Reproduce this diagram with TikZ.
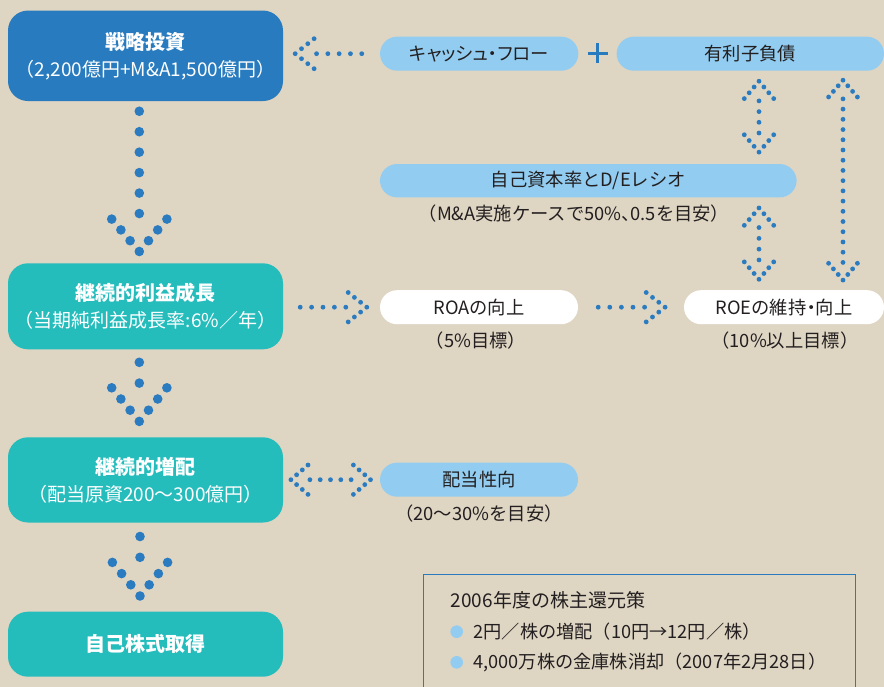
\documentclass[tikz,border=0pt]{standalone}
\usepackage{fontspec}
\setmainfont{Noto Sans CJK JP}
\usetikzlibrary{calc}
\definecolor{cbg}{HTML}{DED5C3}
\definecolor{cnavy}{HTML}{287BBE}
\definecolor{cteal}{HTML}{25BCBC}
\definecolor{cpale}{HTML}{92CDF1}
\definecolor{cdot}{HTML}{2A7BBF}
\definecolor{ctext}{HTML}{231F20}
\newcommand\ttlfont{\fontsize{20}{27}\selectfont\bfseries}
\tikzset{
  mainbox/.style={rectangle, rounded corners=20pt, minimum width=275pt, inner sep=0pt,
    text=white, align=center, font=\fontsize{19}{27}\selectfont},
  pill/.style={rectangle, rounded corners=17pt, fill=cpale, minimum height=34pt, inner sep=0pt,
    text=ctext, font=\fontsize{18.3}{20}\selectfont},
  subtxt/.style={text=ctext, inner sep=0pt, font=\fontsize{18.3}{20}\selectfont},
  lgtxt/.style={text=ctext, inner sep=0pt, anchor=west, font=\fontsize{18.2}{20}\selectfont},
  pics/vchev/.style n args={3}{code={
    \fill[cdot] (0,0) circle (#3pt);
    \foreach \k in {1,2,3}{\fill[cdot] (\k*#1,\k*#2) circle (#3pt); \fill[cdot] (-\k*#1,\k*#2) circle (#3pt);}
  }},
  pics/hchev/.style n args={3}{code={
    \fill[cdot] (0,0) circle (#3pt);
    \foreach \k in {1,2,3}{\fill[cdot] (\k*#1,\k*#2) circle (#3pt); \fill[cdot] (\k*#1,-\k*#2) circle (#3pt);}
  }},
}
\begin{document}
\begin{tikzpicture}[x=1pt,y=-1pt]
\fill[cbg] (0,0) rectangle (884,687);
\useasboundingbox (0,0) rectangle (884,687);

% main column
\node[mainbox, fill=cnavy, minimum height=90.5pt] (s1) at (145.5,55.8)
  {{\ttlfont 戦略投資}\\（2,200億円+M\&A1,500億円）};
\node[mainbox, fill=cteal, minimum height=86pt] (s2) at (145.5,306.3)
  {{\ttlfont 継続的利益成長}\\（当期純利益成長率:6\%／年）};
\node[mainbox, fill=cteal, minimum height=85.2pt] (s3) at (145.5,479.9)
  {{\ttlfont 継続的増配}\\（配当原資200～300億円）};
\node[mainbox, fill=cteal, minimum height=65pt] (s4) at (145.5,644.2)
  {\ttlfont 自己株式取得};

% right column
\node[pill, minimum width=198.3pt] (cf) at (479.2,53.7) {\addfontfeature{RawFeature=+palt}キャッシュ・フロー};
\node[pill, minimum width=267.3pt] (debt) at (750.3,53.7) {有利子負債};
\coordinate (plus) at (597.7,53.5);
\draw[cnavy, line width=2.6pt] ($(plus)+(-10,0)$) -- ($(plus)+(10,0)$) ($(plus)+(0,-10)$) -- ($(plus)+(0,10)$);
\node[pill, minimum width=416.7pt, minimum height=33.3pt] (de) at (588.3,180.7) {自己資本率とD/Eレシオ};
\node[subtxt] (desub) at (574,213.3) {（M\&A実施ケースで50\%{\addfontfeature{RawFeature=+palt}、}0.5を目安）};
\node[pill, fill=white, minimum width=198pt] (roa) at (479,307.2) {ROAの向上};
\node[subtxt] (roasub) at (476,340.7) {（5\%目標）};
\node[pill, fill=white, minimum width=200pt] (roe) at (784,307.2) {ROEの維持{\addfontfeature{RawFeature=+palt}・}向上};
\node[subtxt] (roesub) at (785,340.7) {（10\%以上目標）};
\node[pill, minimum width=198pt] (pay) at (479,479.7) {配当性向};
\node[subtxt] (paysub) at (479,513.3) {（20～30\%を目安）};

% legend
\draw[cnavy, line width=1pt] (423.3,692) -- (423.3,574.3) -- (855,574.3) -- (855,692);
\node[lgtxt, font=\fontsize{19}{20}\selectfont] (lgt) at (450.7,600) {2006年度の株主還元策};
\fill[cpale] (456.7,631.7) circle (6.3pt);
\node[lgtxt] (lg1) at (473.3,631.7) {2円／株の増配（10円→12円／株）};
\fill[cpale] (456.7,662.3) circle (6.3pt);
\node[lgtxt] (lg2) at (473.3,662.3) {4,000万株の金庫株消却（2007年2月28日）};

% big dotted arrows in main column
\foreach \i in {0,...,5} \fill[cdot] ($(s1.south)+(-6.2,10+20.46*\i)$) circle (4.8pt);
\pic at ($(s2.north)+(-6.2,-11.6)$) {vchev={9.2}{-10.8}{4.8}};
\foreach \i in {0,1} \fill[cdot] ($(s2.south)+(-6.2,12.8+20.8*\i)$) circle (4.8pt);
\pic at ($(s3.north)+(-6.2,-15.7)$) {vchev={9.2}{-11.2}{4.8}};
\foreach \i in {0,1} \fill[cdot] ($(s3.south)+(-5.5,13.8+20.8*\i)$) circle (4.8pt);
\pic at ($(s4.north)+(-5.5,-15.5)$) {vchev={9.2}{-11.2}{4.8}};

% cash flow -> strategic investment
\pic at ($(s1.east |- cf.west)+(12,0)$) {hchev={6.3}{5}{2.4}};
\foreach \i in {0,...,4} \fill[cdot] ($(cf.west)+(-63.3+11.3*\i,0)$) circle (2.4pt);

% growth -> ROA -> ROE
\foreach \i in {0,...,4} \fill[cdot] ($(s2.east |- roa.west)+(17+11.4*\i,0)$) circle (2.4pt);
\pic at ($(roa.west)+(-13,0)$) {hchev={-6.2}{4.9}{2.4}};
\foreach \i in {0,...,4} \fill[cdot] ($(roa.east)+(20+11.6*\i,0)$) circle (2.4pt);
\pic at ($(roe.west)+(-18.7,0)$) {hchev={-6.3}{4.9}{2.4}};

% dividend <-> payout
\pic at ($(s3.east |- pay.west)+(7.7,0)$) {hchev={5.7}{4.9}{2.4}};
\foreach \i in {0,...,4} \fill[cdot] ($(s3.east |- pay.west)+(26.7+10.3*\i,0)$) circle (2.4pt);
\pic at ($(pay.west)+(-9.3,0)$) {hchev={-5.7}{4.9}{2.4}};

% debt <-> D/E
\pic at ($(debt.south)+(8.7,10.3)$) {vchev={4.9}{5.8}{2.4}};
\foreach \i in {0,...,3} \fill[cdot] ($(debt.south)+(8.7,30+10.7*\i)$) circle (2.4pt);
\pic at ($(debt.south |- de.north)+(8.7,-11.7)$) {vchev={4.9}{-5.8}{2.4}};
% D/E <-> ROE
\pic at ($(debt.south |- de.south)+(8.7,10.4)$) {vchev={4.9}{5.8}{2.4}};
\foreach \i in {0,...,3} \fill[cdot] ($(debt.south |- de.south)+(8.7,30+10.8*\i)$) circle (2.4pt);
\pic at ($(debt.south |- roe.north)+(8.7,-10.7)$) {vchev={4.9}{-5.8}{2.4}};
% debt <-> ROE (long)
\pic at ($(debt.south)+(92.7,9.3)$) {vchev={4.8}{5.6}{2.4}};
\foreach \i in {0,...,16} \fill[cdot] ($(debt.south)+(92.7,28+10.22*\i)$) circle (2.4pt);
\pic at ($(debt.south |- roe.north)+(92.7,-9.9)$) {vchev={4.8}{-5.6}{2.4}};
\end{tikzpicture}
\end{document}
